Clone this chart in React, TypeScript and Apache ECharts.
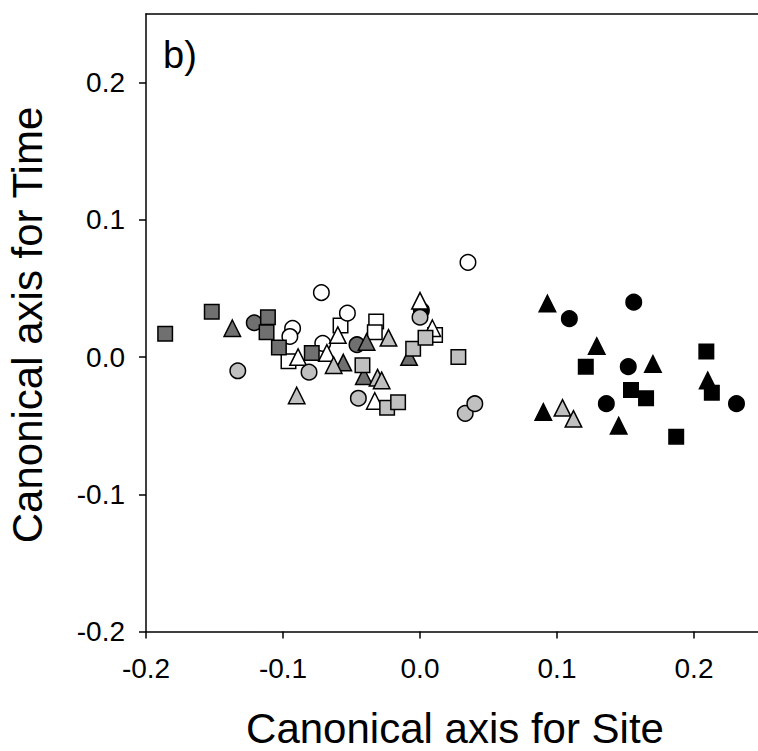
import React, { useEffect, useRef } from "react";
import * as echarts from "echarts";

// Tick values
const xTicks = [-0.2, -0.1, 0.0, 0.1, 0.2];
const yTicks = [-0.2, -0.1, 0.0, 0.1, 0.2];

// Black markers
const blackCircles = [[0.109, 0.028], [0.156, 0.040], [0.152, -0.007], [0.136, -0.034], [0.231, -0.034], [0.001, 0.034]];
const blackTriangles = [[0.093, 0.039], [0.129, 0.008], [0.170, -0.005], [0.210, -0.017], [0.090, -0.040], [0.145, -0.050]];
const blackSquares = [[0.121, -0.007], [0.209, 0.004], [0.213, -0.026], [0.154, -0.024], [0.165, -0.030], [0.187, -0.058]];

// White markers
const whiteCircles = [[0.035, 0.069], [-0.072, 0.047], [-0.053, 0.032], [-0.093, 0.021], [-0.095, 0.015], [-0.071, 0.010]];
const whiteSquares = [[0.011, 0.016], [-0.058, 0.023], [-0.032, 0.026], [-0.033, 0.018], [-0.096, -0.003]];
const whiteTriangles = [[0.000, 0.041], [0.009, 0.021], [-0.060, 0.016], [-0.089, 0.000], [-0.068, 0.003], [-0.033, -0.032]];

// Dark grey markers
const darkCircles = [[-0.121, 0.025], [-0.046, 0.009]];
const darkSquares = [[-0.186, 0.017], [-0.152, 0.033], [-0.111, 0.029], [-0.112, 0.018], [-0.103, 0.007], [-0.079, 0.003]];
const darkTriangles = [[-0.137, 0.021], [-0.056, -0.004], [-0.039, 0.011], [-0.041, -0.014], [-0.008, 0.000]];

// Light grey markers
const lightCircles = [[-0.133, -0.010], [-0.081, -0.011], [-0.045, -0.030], [0.000, 0.029], [0.033, -0.041], [0.040, -0.034]];
const lightSquares = [[-0.042, -0.006], [-0.024, -0.037], [-0.016, -0.033], [-0.005, 0.006], [0.004, 0.014], [0.028, 0.000]];
const lightTriangles = [[-0.090, -0.028], [-0.063, -0.006], [-0.023, 0.014], [-0.031, -0.015], [-0.028, -0.017], [0.104, -0.037], [0.112, -0.045]];

const BLACK = "#000000";
const WHITE = "#ffffff";
const DARK = "#707070";
const LIGHT = "#c0c0c0";
const FONT = "'Liberation Sans', Arial, sans-serif";

function mk(data: number[][], symbol: string, color: string) {
  const size = symbol === "circle" ? 15.5 : symbol === "rect" ? 14.5 : 16.5;
  return {
    type: "scatter",
    data,
    symbol,
    symbolSize: size,
    itemStyle: { color, borderColor: "#000", borderWidth: 1.5, opacity: 1 },
    emphasis: { disabled: true },
  };
}

export default function App() {
  const ref = useRef<HTMLDivElement>(null);
  useEffect(() => {
    if (!ref.current) return;
    const chart = echarts.init(ref.current, null, { renderer: "svg" });
    const fmt = (v: number) => v.toFixed(1);
    chart.setOption({
      animation: false,
      backgroundColor: "#ffffff",
      grid: { left: 146, right: 0, top: 14, bottom: 119.5, containLabel: false },
      xAxis: [
        {
          type: "value",
          min: -0.2,
          max: 0.2467,
          interval: 0.1,
          axisLine: { show: true, onZero: false, lineStyle: { color: "#000", width: 1.5 } },
          axisTick: { show: true, inside: false, length: 7, customValues: xTicks, lineStyle: { color: "#000", width: 1.5 } },
          axisLabel: { customValues: xTicks, formatter: fmt, color: "#000", fontSize: 28, fontFamily: FONT, margin: 23 },
          splitLine: { show: false },
        },
        {
          type: "value",
          position: "top",
          min: -0.2,
          max: 0.2467,
          axisLine: { show: true, onZero: false, lineStyle: { color: "#000", width: 1.5 } },
          axisTick: { show: false },
          axisLabel: { show: false },
          splitLine: { show: false },
        },
      ],
      yAxis: {
        type: "value",
        min: -0.2,
        max: 0.25,
        interval: 0.1,
        axisLine: { show: true, onZero: false, lineStyle: { color: "#000", width: 1.5 } },
        axisTick: { show: true, inside: false, length: 7, customValues: yTicks, lineStyle: { color: "#000", width: 1.5 } },
        axisLabel: { customValues: yTicks, formatter: fmt, color: "#000", fontSize: 28, fontFamily: FONT, margin: 21 },
        splitLine: { show: false },
      },
      graphic: [
        {
          type: "text",
          x: 455,
          y: 728,
          style: { text: "Canonical axis for Site", font: `42px ${FONT}`, fill: "#000", align: "center", verticalAlign: "middle" },
        },
        {
          type: "text",
          x: 27.5,
          y: 325,
          rotation: Math.PI / 2,
          style: { text: "Canonical axis for Time", font: `42px ${FONT}`, fill: "#000", align: "center", verticalAlign: "middle" },
        },
        {
          type: "text",
          x: 163,
          y: 55,
          style: { text: "b)", font: `38px ${FONT}`, fill: "#000", align: "left", verticalAlign: "middle" },
        },
      ],
      series: [
        mk(blackCircles, "circle", BLACK),
        mk(blackTriangles, "triangle", BLACK),
        mk(blackSquares, "rect", BLACK),
        mk(whiteSquares, "rect", WHITE),
        mk(whiteCircles, "circle", WHITE),
        mk(whiteTriangles, "triangle", WHITE),
        mk(darkCircles, "circle", DARK),
        mk(darkSquares, "rect", DARK),
        mk(darkTriangles, "triangle", DARK),
        mk(lightCircles, "circle", LIGHT),
        mk(lightSquares, "rect", LIGHT),
        mk(lightTriangles, "triangle", LIGHT),
      ],
    });
    return () => chart.dispose();
  }, []);
  return (
    <div
      ref={ref}
      style={{ position: "fixed", left: 0, top: 0, width: 758, height: 751, background: "#fff" }}
    />
  );
}
